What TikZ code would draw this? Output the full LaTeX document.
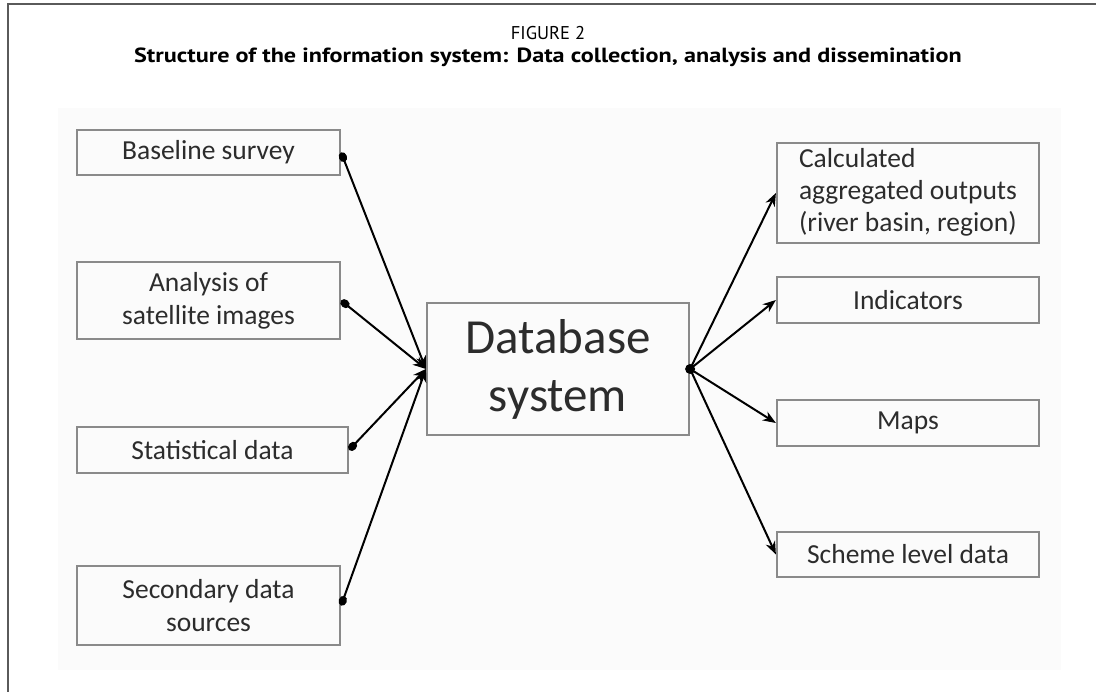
\documentclass[tikz,border=0pt]{standalone}
\usepackage{fontspec}
\setmainfont{Carlito}
\newfontfamily\capfont{PT Sans}
\usetikzlibrary{arrows.meta}
\definecolor{boxline}{HTML}{8A8A8A}
\definecolor{frameline}{HTML}{5A5A5A}
\definecolor{boxtext}{HTML}{2C2C2C}

\begin{document}
\begin{tikzpicture}[x=1pt, y=-1pt,
    box/.style={draw=boxline, line width=2.2pt, text=boxtext, minimum width=263pt,
      inner sep=0pt, align=center, font=\fontsize{27.5}{33}\selectfont},
    feed/.style={line width=2pt, {Circle[length=10pt,width=8pt]}-{Stealth[length=13pt,width=10pt,inset=4pt]}},
    spread/.style={line width=2pt, -{Stealth[length=13pt,width=10pt,inset=4pt]}},
  ]
    \useasboundingbox (0, 0) rectangle (1096, 692) ;
    \fill[black!1.5] (58, 108) rectangle (1061, 670) ;
    \draw[frameline, line width=2.5pt] (1096, 4) -- (8, 4) -- (8, 692) ;
    \node[font=\capfont\fontsize{18.5}{22}\selectfont] (fig) at (548, 33) {FIGURE 2} ;
    \node[font=\capfont\bfseries\fontsize{20.5}{24}\selectfont] (title) at (548, 57)
      {\scalebox{1.18}[1]{Structure of the information system: Data collection, analysis and dissemination}} ;
    % data sources
    \node[box, minimum height=45pt] (base) at (208.5, 152.5) {Baseline survey} ;
    \node[box, minimum height=77pt] (sat) at (208.5, 300.5) {Analysis of\\satellite images} ;
    \node[box, minimum height=46pt, minimum width=271pt] (stat) at (212.5, 450) {Statistical data} ;
    \node[box, minimum height=79pt] (sec) at (208.5, 605.5) {Secondary data\\sources} ;
    % database
    \node[box, minimum width=262pt, minimum height=132pt,
      font=\fontsize{49}{58}\selectfont] (db) at (558, 369) {Database\\system} ;
    % outputs
    \node[box, minimum width=262pt, minimum height=100pt]
      (calc) at (908, 193) {\begin{tabular}{@{}l@{}}Calculated\\[-1pt]aggregated outputs\\[-1pt](river basin, region)\end{tabular}} ;
    \node[box, minimum width=262pt, minimum height=46pt] (ind) at (908, 300) {Indicators} ;
    \node[box, minimum width=262pt, minimum height=46pt] (maps) at (908, 423) {Maps} ;
    \node[box, minimum width=262pt, minimum height=45pt] (scheme) at (908, 554.5) {Scheme level data} ;
    % connectors
    \draw[feed] (base.east) -- (db.west) ;
    \draw[feed] (sat.east) -- (db.west) ;
    \draw[feed] (stat.east) -- (db.west) ;
    \draw[feed] (sec.east) -- (db.west) ;
    \draw[spread] (db.east) -- (calc.west) ;
    \draw[spread] (db.east) -- (ind.west) ;
    \draw[spread] (db.east) -- (maps.west) ;
    \draw[spread] (db.east) -- (scheme.west) ;
    \fill (db.east) circle (5pt) ;
  \end{tikzpicture}
\end{document}
